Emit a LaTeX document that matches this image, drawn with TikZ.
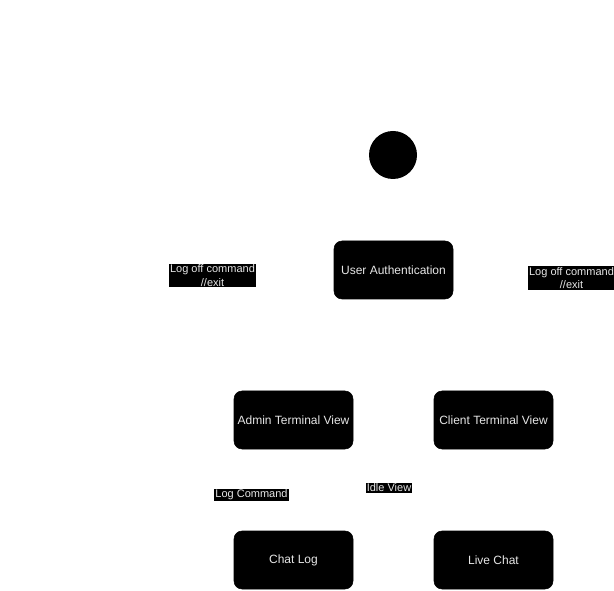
\documentclass[tikz,border=0pt]{standalone}
\usepackage{fontspec}
\setmainfont{Liberation Sans}
\definecolor{txt}{HTML}{E6E6E6}
\begin{document}
\begin{tikzpicture}[x=0.75pt,y=-0.75pt,
  state/.style={draw=black,fill=black,rounded corners=6pt,minimum width=89.25pt,minimum height=43.5pt,inner sep=0pt,text=txt,font=\fontsize{9pt}{11pt}\selectfont},
  lbl/.style={fill=black,text=txt,inner sep=0.8pt,align=center,font=\fontsize{8.25pt}{10pt}\selectfont}]
\useasboundingbox (0,0) rectangle (614,591);
\node[circle,fill=black,minimum size=36pt,inner sep=0pt] (start) at (393,155) {};
\node[state] (auth) at (393.5,270) {User Authentication};
\node[state] (admin) at (293.5,420) {Admin Terminal View};
\node[state] (client) at (493.5,420) {Client Terminal View};
\node[state] (chatlog) at (293.5,560) {Chat Log};
\node[state] (live) at (493.5,560) {Live Chat};
\node[lbl] (l1) at (212.5,275.5) {Log off command\\//exit};
\node[lbl] (l2) at (571.5,278) {Log off command\\//exit};
\node[lbl] (l3) at (251.5,495) {Log Command};
\node[lbl] (l4) at (389,488) {Idle View};
\end{tikzpicture}
\end{document}
